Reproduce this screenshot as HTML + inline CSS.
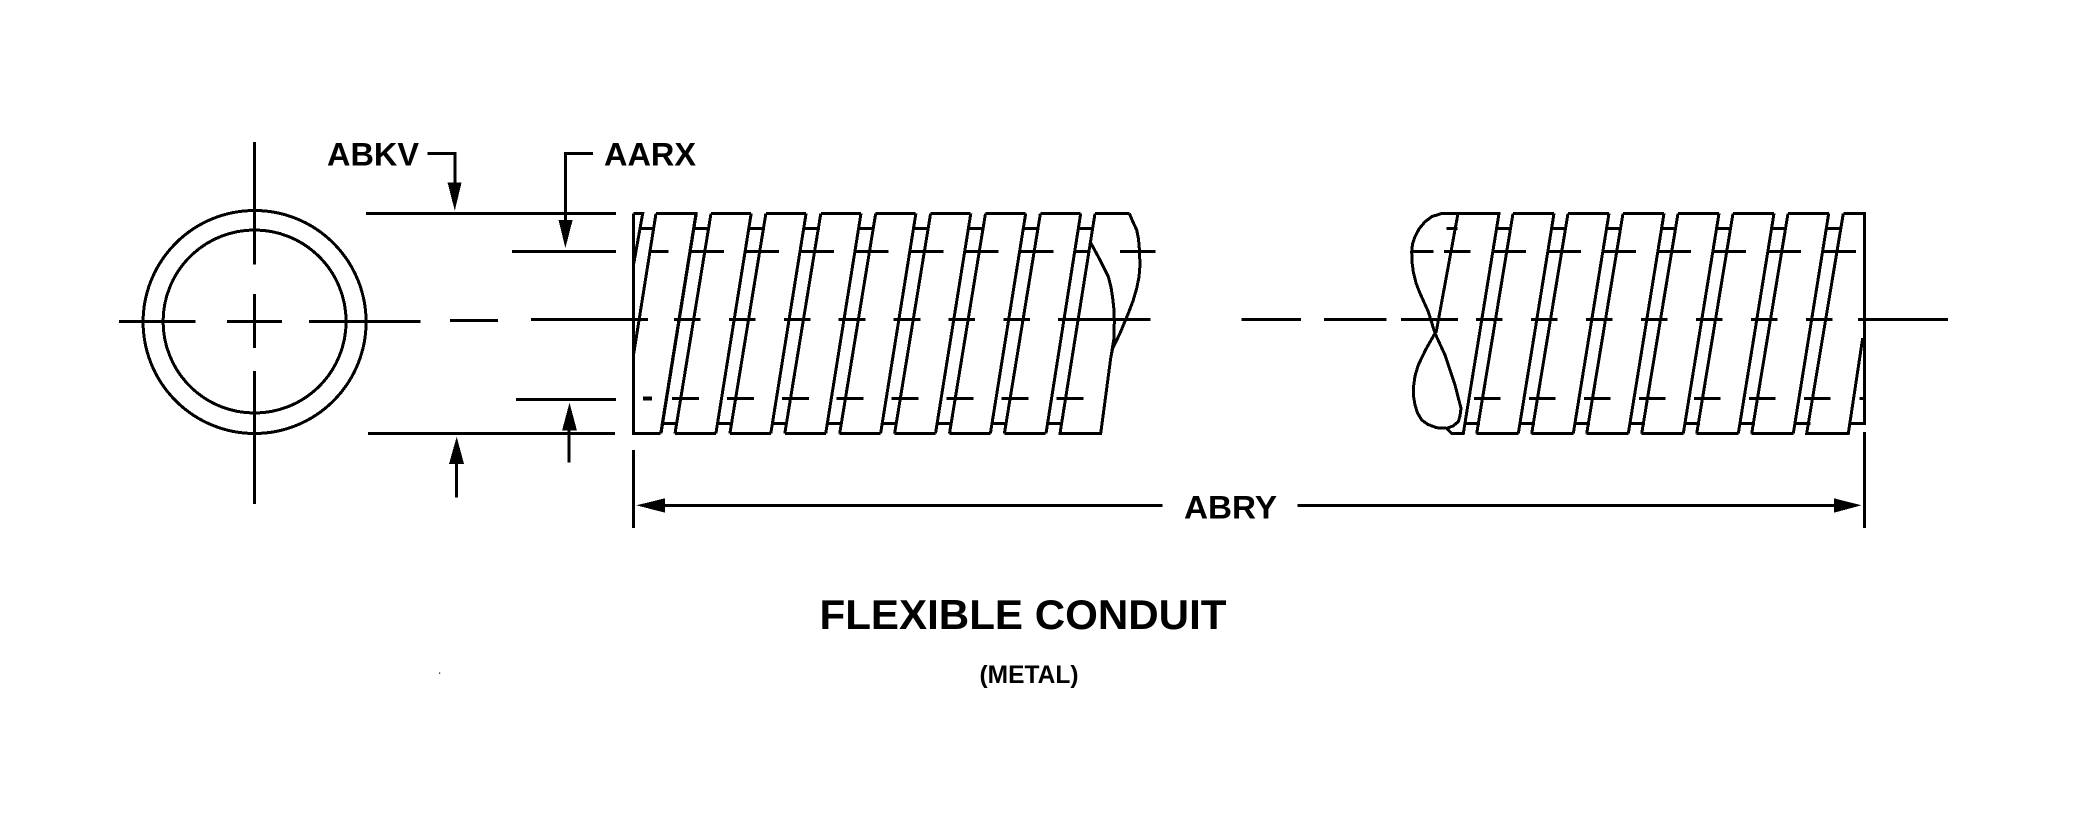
<!DOCTYPE html>
<html>
<head>
<meta charset="utf-8">
<style>
html,body{margin:0;padding:0;background:#fff;}
svg{display:block;}
text{font-family:"Liberation Sans",Arial,sans-serif;font-weight:bold;fill:#000;}
.l{stroke:#000;stroke-width:3;fill:none;shape-rendering:crispEdges;}
.c{stroke:#000;stroke-width:3;fill:none;shape-rendering:crispEdges;}
polygon{shape-rendering:crispEdges;}
</style>
</head>
<body>
<svg width="2074" height="813" viewBox="0 0 2074 813" xmlns="http://www.w3.org/2000/svg">
<rect width="2074" height="813" fill="#fff"/>
<defs>
<path id="a" class="l" d="M0 213.5L-36 433.5M-14.7 213.5L-50 433.5M-17.5 228.5H-1M-49.3 423.5H-34.3M0 213.5H40M-36 433.5H5"/>
<path id="b" class="l" d="M0 213.5L-36.3 433.5M-14 213.5L-49.7 433.5M-18 228.5H-1.5M-48 423.5H-33M0 213.5H41M-36.3 433.5H5.3"/>
</defs>

<!-- end view -->
<circle class="c" cx="254.6" cy="322" r="111.5"/>
<circle class="c" cx="254.6" cy="321.5" r="91.5"/>
<path class="l" d="M254.5 142V264.7M254.5 294V348M254.5 371V504M119 321.5H195.7M227 321.5H282M309 321.5H420.7M450 320.5H498M531 319.5H648"/>

<!-- extension lines -->
<path class="l" d="M366 213.5H616M512 251.5H616M516 399.5H616M368 433.5H615M633.5 450V528M1864.5 432V528"/>

<!-- leaders and arrows -->
<path class="l" d="M427.6 153.5H454.8V185M593 153.5H565.4V222M569 430V462.7M456.7 464V497.7M665 505.5H1162.7M1297.7 505.5H1834"/>
<polygon points="454.8,210.7 447.5,182.3 461.6,182.3"/>
<polygon points="565.4,248 558.5,220 572.6,220"/>
<polygon points="569.5,402.7 562,430.7 577,430.7"/>
<polygon points="456.7,436.7 449,464 464,464"/>
<polygon points="636.4,505.3 665,498.3 665,512.7"/>
<polygon points="1861.4,505.3 1834,498.3 1834,512.7"/>

<!-- left conduit section -->
<path class="l" d="M633.5 213.5V433.5H660.7M633.5 213.5H642.7L633.5 265M656 213.5L633.5 355M639 228.5H655M656 213.5H696L660.7 433.5"/>
<use href="#a" x="711"/>
<use href="#a" x="765.9"/>
<use href="#a" x="820.8"/>
<use href="#a" x="875.7"/>
<use href="#a" x="930.6"/>
<use href="#a" x="985.5"/>
<use href="#a" x="1040.4"/>
<path class="l" d="M1095 213.5L1060 433.5H1100.7L1110.7 358.3M1095 213.5H1129.3M1080.7 213.5L1046 433.5M1078.3 228.5H1094M1047.3 423.5H1061.7"/>
<polyline class="c" points="1129.3,213.5 1133,222 1136.7,230 1138.5,239 1139.3,248.3 1140,265 1139,277 1136.7,288.3 1133,301 1128.3,313.3 1120,333.3 1112.7,348.3 1110.7,358.3"/>
<polyline class="c" points="1091,243.3 1100,260 1108.3,276.7 1111,287 1112.7,298.3 1114,310 1114.3,321.7 1114,338.3 1110.7,358.3"/>
<path class="l" d="M650 251.5H668.7M1074.3 251.5H1090M1120 251.5H1155.7M1058 319.5H1150.7"/>
<path class="l" stroke-dasharray="34 20.9" d="M690 251.5H1054"/>
<path class="l" stroke-dasharray="26.7 28.2" d="M674 319.5H1030"/>
<path class="l" stroke-dasharray="27 27.9" d="M672 398.5H1083.5"/>
<rect x="643" y="396.5" width="9" height="4" fill="#000"/>

<!-- right conduit section -->
<path class="l" d="M1441.7 213.5H1499L1463.3 433.5H1451.7L1446.7 428.3M1458 213.5L1436 333"/>
<use href="#b" x="1513"/>
<use href="#b" x="1568"/>
<use href="#b" x="1623"/>
<use href="#b" x="1678"/>
<use href="#b" x="1733"/>
<use href="#b" x="1788"/>
<path class="l" d="M1843.3 213.5L1806.7 433.5H1848.3L1862.7 338M1843.3 213.5H1864.5V423.5H1850M1828.7 213.5L1793.3 433.5M1825.3 228.5H1842M1795.3 423.5H1810.3"/>
<polyline class="c" points="1441.7,213.5 1432,216.5 1425,221.7 1419,229 1415,236.7 1412.5,244 1411.7,251.7 1412,262 1413.3,271.7 1416,283 1420,293.3 1428.3,311.7 1435,333.3 1445,355 1450,370 1455,385 1461,408.3 1460,416 1458.3,421.7 1453,426 1446.7,428.3 1436.7,427.7 1428,424.5 1421.7,420 1417.5,413 1415,405 1413.5,396 1413.3,388.3 1415,376 1418.3,365 1426,349 1435,333.3"/>
<path class="l" d="M1411.7 251.5H1433.3M1444 251.5H1470.7M1241.7 319.5H1301M1324 319.5H1386.7M1401 319.5H1458M1858 319.5H1948M1859.3 398.5H1864M1446.7 228.5H1457.3"/>
<path class="l" stroke-dasharray="33.3 21.7" d="M1492.7 251.5H1856"/>
<path class="l" stroke-dasharray="26.7 28.3" d="M1476 319.5H1832.7"/>
<path class="l" stroke-dasharray="26.7 28.3" d="M1474 398.5H1830.7"/>

<!-- labels -->
<text x="327" y="165.5" font-size="32" textLength="92" lengthAdjust="spacingAndGlyphs">ABKV</text>
<text x="604" y="165.5" font-size="32" textLength="92" lengthAdjust="spacingAndGlyphs">AARX</text>
<text x="1184" y="518.5" font-size="32" textLength="93" lengthAdjust="spacingAndGlyphs">ABRY</text>
<text x="819.5" y="629" font-size="41.5" textLength="407" lengthAdjust="spacingAndGlyphs">FLEXIBLE CONDUIT</text>
<text x="979.5" y="683" font-size="25" textLength="99" lengthAdjust="spacingAndGlyphs">(METAL)</text>
<rect x="439" y="672.5" width="1.2" height="1.2" fill="#000"/>
</svg>
</body>
</html>
